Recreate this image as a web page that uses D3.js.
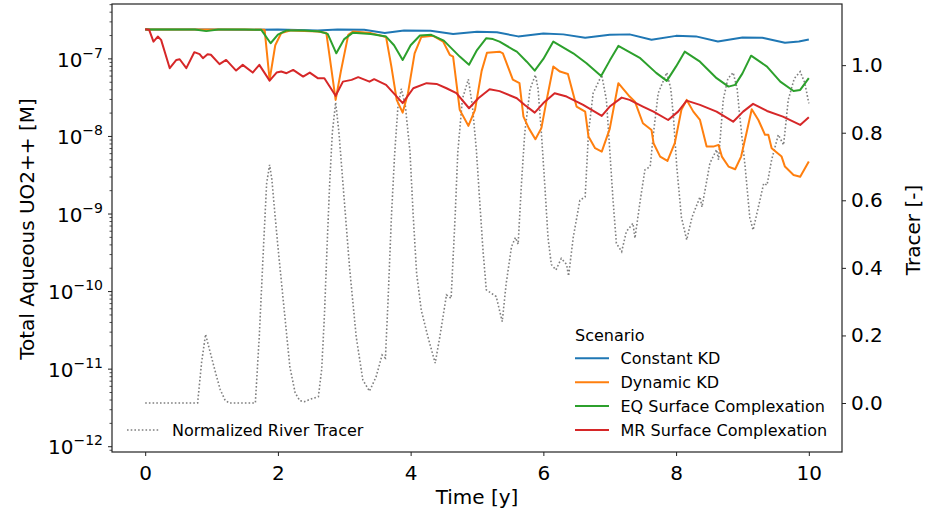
<!DOCTYPE html>
<html><head><meta charset="utf-8">
<script src="https://cdn.jsdelivr.net/npm/d3@7"></script>
<style>body{margin:0;background:#fff}svg{display:block}text{font-family:"DejaVu Sans",sans-serif;fill:#000}</style>
</head><body><svg id="c" width="928" height="513"></svg>
<script>
// ---- data ----
const xTicks = [0, 2, 4, 6, 8, 10];
const leftTickExps = [-12, -11, -10, -9, -8, -7];
const rightTicks = [0.0, 0.2, 0.4, 0.6, 0.8, 1.0];
const scenarioNames = ["Constant KD", "Dynamic KD", "EQ Surface Complexation", "MR Surface Complexation"];
const scenarioColors = ["#1f77b4", "#ff7f0e", "#2ca02c", "#d62728"];
const tracerName = "Normalized River Tracer";

const constantKD = [[0,2.40e-7],[0.5,2.40e-7],[1.0,2.40e-7],[1.5,2.37e-7],[2.0,2.40e-7],[2.6,2.33e-7],[2.9,2.40e-7],[3.3,2.37e-7],[3.61,2.16e-7],[3.9,2.33e-7],[4.3,2.30e-7],[4.64,2.10e-7],[5.0,2.23e-7],[5.3,2.20e-7],[5.62,1.95e-7],[6.0,2.13e-7],[6.3,2.07e-7],[6.63,1.87e-7],[7.0,2.04e-7],[7.3,2.07e-7],[7.63,1.76e-7],[8.0,1.98e-7],[8.3,1.95e-7],[8.63,1.68e-7],[9.0,1.89e-7],[9.3,1.87e-7],[9.64,1.61e-7],[9.85,1.68e-7],[10.0,1.78e-7]];

const dynamicKD = [[0,2.40e-7],[1.5,2.40e-7],[1.8,2.37e-7],[1.875,5.36e-8],[1.96,1.5e-7],[2.05,2.16e-7],[2.2,2.33e-7],[2.6,2.25e-7],[2.73,2.15e-7],[2.8,8e-8],[2.87,2.96e-8],[2.95,7e-8],[3.06,2.04e-7],[3.13,2.25e-7],[3.4,2.15e-7],[3.63,1.91e-7],[3.71,7.96e-8],[3.79,2.96e-8],[3.88,2.03e-8],[3.96,3.61e-8],[4.06,1.18e-7],[4.16,1.91e-7],[4.34,1.98e-7],[4.49,1.67e-7],[4.59,1.13e-7],[4.64,1.07e-7],[4.69,4.86e-8],[4.74,2.2e-8],[4.87,1.37e-8],[4.97,2.2e-8],[5.07,7.0e-8],[5.15,1.20e-7],[5.34,1.24e-7],[5.39,1.18e-7],[5.54,5.4e-8],[5.64,4.86e-8],[5.70,1.8e-8],[5.78,1.28e-8],[5.88,9.2e-9],[5.97,1.28e-8],[6.05,2.96e-8],[6.15,7.96e-8],[6.25,6.86e-8],[6.37,6.40e-8],[6.5,2.43e-8],[6.63,2.09e-8],[6.68,9.96e-9],[6.78,7.05e-9],[6.88,6.38e-9],[7.0,1.25e-8],[7.13,4.86e-8],[7.30,3.27e-8],[7.38,2.81e-8],[7.50,1.48e-8],[7.63,1.21e-8],[7.66,8.18e-9],[7.76,5.5e-9],[7.87,4.84e-9],[7.98,8.18e-9],[8.08,2.2e-8],[8.16,2.96e-8],[8.26,2.09e-8],[8.36,1.63e-8],[8.46,7.4e-9],[8.56,7.4e-9],[8.64,7.78e-9],[8.69,5.5e-9],[8.79,4.09e-9],[8.89,3.78e-9],[8.98,5.5e-9],[9.06,1.1e-8],[9.14,2.24e-8],[9.24,1.63e-8],[9.34,1.05e-8],[9.39,1.05e-8],[9.44,7.05e-9],[9.59,5.5e-9],[9.64,4.09e-9],[9.77,3.19e-9],[9.87,3.03e-9],[10.0,4.74e-9]];

const eqSurface = [[0,2.40e-7],[0.75,2.40e-7],[0.92,2.28e-7],[1.1,2.40e-7],[1.5,2.40e-7],[1.75,2.37e-7],[1.89,1.59e-7],[2.0,2.05e-7],[2.13,2.33e-7],[2.4,2.33e-7],[2.63,2.25e-7],[2.75,2.1e-7],[2.88,1.18e-7],[3.0,1.8e-7],[3.13,2.18e-7],[3.4,2.1e-7],[3.63,1.94e-7],[3.75,1.5e-7],[3.88,9.7e-8],[4.0,1.5e-7],[4.14,2.0e-7],[4.31,2.04e-7],[4.5,1.72e-7],[4.74,1.07e-7],[4.88,8.4e-8],[5.0,1.3e-7],[5.14,1.85e-7],[5.24,1.80e-7],[5.34,1.67e-7],[5.55,1.31e-7],[5.6,1.24e-7],[5.75,9.2e-8],[5.87,7.05e-8],[6.0,1.0e-7],[6.15,1.67e-7],[6.45,1.18e-7],[6.65,8.8e-8],[6.87,6.0e-8],[7.0,9.5e-8],[7.13,1.47e-7],[7.46,1.02e-7],[7.70,6.6e-8],[7.86,5.2e-8],[8.0,8.0e-8],[8.13,1.24e-7],[8.36,9.2e-8],[8.61,5.64e-8],[8.79,4.39e-8],[8.89,4.62e-8],[9.0,6.5e-8],[9.13,1.10e-7],[9.37,7.96e-8],[9.57,5.09e-8],[9.77,3.86e-8],[9.87,3.98e-8],[10.0,5.64e-8]];

const mrSurface = [[0,2.41e-7],[0.06,2.37e-7],[0.125,1.67e-7],[0.19,1.94e-7],[0.24,1.76e-7],[0.37,7.59e-8],[0.47,9.7e-8],[0.52,9.9e-8],[0.62,7.59e-8],[0.74,1.22e-7],[0.82,1.15e-7],[0.87,1.02e-7],[0.94,1.15e-7],[0.99,1.13e-7],[1.12,8.55e-8],[1.22,9.7e-8],[1.37,7.07e-8],[1.47,8.37e-8],[1.62,6.66e-8],[1.72,8.37e-8],[1.875,5.25e-8],[1.98,6.66e-8],[2.05,6.86e-8],[2.13,6.54e-8],[2.23,7.21e-8],[2.38,5.91e-8],[2.48,6.66e-8],[2.60,5.64e-8],[2.70,5.64e-8],[2.87,3.34e-8],[2.98,5.09e-8],[3.11,5.36e-8],[3.21,5.81e-8],[3.38,5.09e-8],[3.45,5.47e-8],[3.63,4.62e-8],[3.88,2.69e-8],[4.04,4.18e-8],[4.24,4.86e-8],[4.39,4.76e-8],[4.54,4.18e-8],[4.69,3.61e-8],[4.88,2.31e-8],[5.02,3.11e-8],[5.19,4.06e-8],[5.34,3.84e-8],[5.60,3.11e-8],[5.72,2.55e-8],[5.87,2.03e-8],[6.0,2.69e-8],[6.17,3.61e-8],[6.35,3.27e-8],[6.60,2.55e-8],[6.88,1.84e-8],[7.0,2.43e-8],[7.18,3.17e-8],[7.30,2.96e-8],[7.50,2.43e-8],[7.66,2.09e-8],[7.88,1.63e-8],[8.03,2.09e-8],[8.16,2.90e-8],[8.36,2.55e-8],[8.61,2.09e-8],[8.86,1.55e-8],[9.01,2.09e-8],[9.16,2.63e-8],[9.37,2.13e-8],[9.61,1.80e-8],[9.87,1.41e-8],[10.0,1.77e-8]];

const tracer = [[0,0],[0.79,0],[0.85,0.12],[0.91,0.203],[0.98,0.15],[1.06,0.09],[1.13,0.04],[1.2,0.01],[1.26,0],[1.66,0],[1.72,0.2],[1.78,0.45],[1.83,0.65],[1.875,0.705],[1.91,0.66],[1.95,0.57],[2.0,0.463],[2.08,0.305],[2.18,0.107],[2.26,0.03],[2.33,0.007],[2.40,0.004],[2.5,0.012],[2.61,0.019],[2.66,0.10],[2.70,0.255],[2.74,0.46],[2.78,0.65],[2.82,0.80],[2.87,0.89],[2.92,0.80],[2.98,0.65],[3.08,0.40],[3.18,0.196],[3.28,0.068],[3.38,0.035],[3.48,0.078],[3.57,0.142],[3.62,0.133],[3.66,0.305],[3.71,0.55],[3.76,0.74],[3.81,0.88],[3.86,0.93],[3.92,0.88],[3.99,0.744],[4.04,0.55],[4.09,0.384],[4.16,0.275],[4.26,0.196],[4.37,0.118],[4.44,0.196],[4.54,0.32],[4.61,0.31],[4.67,0.55],[4.71,0.74],[4.78,0.9],[4.87,0.958],[4.93,0.88],[4.99,0.75],[5.04,0.60],[5.09,0.453],[5.14,0.335],[5.29,0.315],[5.38,0.241],[5.44,0.354],[5.52,0.463],[5.58,0.49],[5.62,0.47],[5.67,0.65],[5.72,0.80],[5.80,0.93],[5.88,0.971],[5.92,0.93],[5.97,0.80],[6.02,0.65],[6.07,0.49],[6.12,0.41],[6.19,0.394],[6.27,0.428],[6.35,0.41],[6.38,0.376],[6.45,0.49],[6.55,0.60],[6.63,0.61],[6.68,0.80],[6.75,0.917],[6.88,0.971],[6.95,0.897],[7.0,0.75],[7.05,0.60],[7.10,0.473],[7.18,0.448],[7.25,0.507],[7.35,0.532],[7.38,0.488],[7.46,0.60],[7.53,0.69],[7.61,0.70],[7.66,0.80],[7.73,0.917],[7.86,0.978],[7.92,0.93],[7.96,0.848],[8.01,0.70],[8.08,0.55],[8.16,0.483],[8.24,0.55],[8.36,0.61],[8.39,0.58],[8.51,0.71],[8.61,0.75],[8.64,0.72],[8.71,0.897],[8.78,0.96],[8.86,0.978],[8.92,0.93],[8.96,0.848],[9.04,0.70],[9.11,0.55],[9.16,0.512],[9.24,0.58],[9.32,0.65],[9.37,0.645],[9.44,0.72],[9.54,0.794],[9.62,0.764],[9.69,0.897],[9.78,0.96],[9.87,0.981],[9.94,0.947],[10.0,0.887]];

const scenarios = [constantKD, dynamicKD, eqSurface, mrSurface];

// ---- layout ----
const L = 112, R = 842, T = 4, B = 452;
const svg = d3.select("#c");
const x = d3.scaleLinear().domain([-0.5, 10.5]).range([L, R]);
const yL = d3.scaleLog().domain([8.55e-13, 5.1e-7]).range([B, T]);
const yR = d3.scaleLinear().domain([-0.145, 1.181]).range([B, T]);

// tracer (secondary axis)
const lineR = d3.line().x(d => x(d[0])).y(d => yR(d[1]));
svg.append("path").datum(tracer).attr("d", lineR)
  .attr("fill", "none").attr("stroke", "#7f7f7f").attr("stroke-width", 1.6)
  .attr("stroke-dasharray", "1.6,2.1");

// scenario lines
const lineL = d3.line().x(d => x(d[0])).y(d => yL(d[1]));
scenarios.forEach((s, i) => {
  svg.append("path").datum(s).attr("d", lineL)
    .attr("fill", "none").attr("stroke", scenarioColors[i]).attr("stroke-width", 2)
    .attr("stroke-linejoin", "round");
});

// frame
svg.append("rect").attr("x", L).attr("y", T).attr("width", R - L).attr("height", B - T)
  .attr("fill", "none").attr("stroke", "#222").attr("stroke-width", 1.2);

// bottom axis
const ax = svg.append("g").attr("transform", `translate(0,${B})`)
  .call(d3.axisBottom(x).tickValues(xTicks).tickSize(4).tickPadding(10).tickFormat(d3.format("d")));
ax.select(".domain").remove();
ax.selectAll("text").attr("font-size", 20).attr("font-family", "DejaVu Sans");
ax.selectAll("line").attr("stroke", "#222");

// left log axis: minor ticks
const minor = [];
for (let e = -13; e <= -7; e++) for (let k = 2; k <= 9; k++) {
  const v = k * Math.pow(10, e);
  if (v >= yL.domain()[0] && v <= yL.domain()[1]) minor.push(v);
}
const gl = svg.append("g");
gl.selectAll("line.mn").data(minor).join("line")
  .attr("x1", L - 2.5).attr("x2", L).attr("y1", d => yL(d)).attr("y2", d => yL(d))
  .attr("stroke", "#222").attr("stroke-width", 0.8);
gl.selectAll("line.mj").data(leftTickExps).join("line")
  .attr("x1", L - 4).attr("x2", L).attr("y1", d => yL(Math.pow(10, d))).attr("y2", d => yL(Math.pow(10, d)))
  .attr("stroke", "#222").attr("stroke-width", 1);
const lt = gl.selectAll("text").data(leftTickExps).join("text")
  .attr("x", L - 9).attr("y", d => yL(Math.pow(10, d)) + 7.7)
  .attr("text-anchor", "end").attr("font-size", 20);
lt.append("tspan").text("10");
lt.append("tspan").attr("font-size", 14).attr("dy", -9).text(d => "\u2212" + Math.abs(d));

// right axis
const ar = svg.append("g").attr("transform", `translate(${R},0)`)
  .call(d3.axisRight(yR).tickValues(rightTicks).tickSize(4).tickPadding(5).tickFormat(d3.format(".1f")));
ar.select(".domain").remove();
ar.selectAll("text").attr("font-size", 20).attr("font-family", "DejaVu Sans");
ar.selectAll("line").attr("stroke", "#222");

// axis titles
svg.append("text").attr("transform", "translate(477,504)").attr("text-anchor", "middle")
  .attr("font-size", 20).text("Time [y]");
svg.append("text").attr("transform", "translate(34,229) rotate(-90)").attr("text-anchor", "middle")
  .attr("font-size", 20).text("Total Aqueous UO2++ [M]");
svg.append("text").attr("transform", "translate(920,230) rotate(-90)").attr("text-anchor", "middle")
  .attr("font-size", 20).text("Tracer [-]");

// scenario legend
const lg = svg.append("g");
lg.append("text").attr("x", 575).attr("y", 341).attr("font-size", 16).text("Scenario");
const rows = [358.3, 382.3, 406, 430];
scenarioNames.forEach((n, i) => {
  lg.append("line").attr("x1", 575).attr("x2", 609).attr("y1", rows[i]).attr("y2", rows[i])
    .attr("stroke", scenarioColors[i]).attr("stroke-width", 2);
  lg.append("text").attr("x", 620.5).attr("y", rows[i] + 5.8).attr("font-size", 16).text(n);
});

// tracer legend
svg.append("line").attr("x1", 127).attr("x2", 160).attr("y1", 430).attr("y2", 430)
  .attr("stroke", "#7f7f7f").attr("stroke-width", 1.6).attr("stroke-dasharray", "1.6,2.1");
svg.append("text").attr("x", 172).attr("y", 435.8).attr("font-size", 16).text(tracerName);
</script></body></html>
